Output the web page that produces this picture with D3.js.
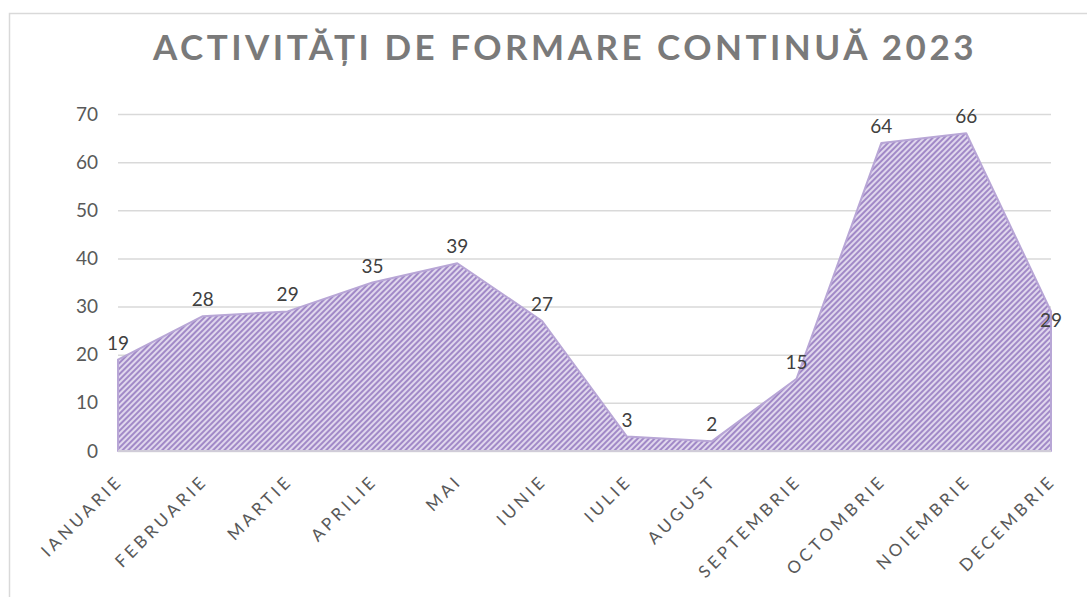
<!DOCTYPE html>
<html>
<head>
<meta charset="utf-8">
<script src="https://cdn.jsdelivr.net/npm/d3@7"></script>
<style>
    body { margin: 0; background: #fff; }
    svg { display: block; }
</style>
</head>
<body>
<div id="chart"></div>
<script>
"use strict";

var title = "ACTIVITĂȚI DE FORMARE CONTINUĂ 2023";
var months = ["IANUARIE", "FEBRUARIE", "MARTIE", "APRILIE", "MAI", "IUNIE",
    "IULIE", "AUGUST", "SEPTEMBRIE", "OCTOMBRIE", "NOIEMBRIE", "DECEMBRIE"];
var values = [19, 28, 29, 35, 39, 27, 3, 2, 15, 64, 66, 29];
var yTicks = [0, 10, 20, 30, 40, 50, 60, 70];

var width = 1087;
var height = 597;
var margin = { top: 114, right: 36, bottom: 146, left: 118 };

var svg = d3.select("#chart")
    .append("svg")
    .attr("width", width)
    .attr("height", height);

// hatch pattern for the area
var pattern = svg.append("defs")
    .append("pattern")
    .attr("id", "hatch")
    .attr("patternUnits", "userSpaceOnUse")
    .attr("width", 4)
    .attr("height", 4)
    .attr("patternTransform", "rotate(45)");

pattern.append("rect")
    .attr("width", 4)
    .attr("height", 4)
    .attr("fill", "#e0d7ed");

pattern.append("line")
    .attr("x1", 1).attr("y1", 0)
    .attr("x2", 1).attr("y2", 4)
    .attr("stroke", "#8c6fbb")
    .attr("stroke-width", 1.5);

// chart frame
svg.append("rect")
    .attr("x", 9.5)
    .attr("y", 13.5)
    .attr("width", 1200)
    .attr("height", 700)
    .attr("fill", "none")
    .attr("stroke", "#d9d9d9")
    .attr("stroke-width", 1.5);

var x = d3.scalePoint()
    .domain(months)
    .range([margin.left, width - margin.right]);

var y = d3.scaleLinear()
    .domain([0, 70])
    .range([height - margin.bottom, margin.top]);

svg.append("text")
    .attr("x", 565)
    .attr("y", 60)
    .attr("text-anchor", "middle")
    .attr("font-family", "Lato, 'Open Sans', sans-serif")
    .attr("font-size", "35px")
    .attr("font-weight", "bold")
    .attr("letter-spacing", "3.5px")
    .attr("fill", "#7a7a7a")
    .text(title);

// gridlines + y labels
var yAxis = svg.append("g")
    .attr("transform", "translate(" + margin.left + ",0)")
    .call(d3.axisLeft(y)
        .tickValues(yTicks)
        .tickSize(-(width - margin.left - margin.right))
        .tickPadding(20));

yAxis.select(".domain").remove();
yAxis.selectAll(".tick line")
    .attr("stroke", "#d9d9d9")
    .attr("stroke-width", 1.5);
yAxis.selectAll(".tick text")
    .attr("font-family", "Lato, 'Open Sans', sans-serif")
    .attr("font-size", "19px")
    .attr("fill", "#595959");

var area = d3.area()
    .x(function (d, i) { return x(months[i]); })
    .y0(y(0))
    .y1(function (d) { return y(d); });

svg.append("path")
    .datum(values)
    .attr("d", area)
    .attr("fill", "url(#hatch)")
    .attr("stroke", "#b8a6d6")
    .attr("stroke-width", 2)
    .attr("stroke-linejoin", "round");

// baseline
svg.append("line")
    .attr("x1", margin.left)
    .attr("x2", width - margin.right)
    .attr("y1", y(0))
    .attr("y2", y(0))
    .attr("stroke", "#d9d9d9")
    .attr("stroke-width", 1.5);

// data labels
svg.selectAll("text.value")
    .data(values)
    .enter()
    .append("text")
    .attr("class", "value")
    .attr("x", function (d, i) {
        return x(months[i]);
    })
    .attr("y", function (d, i) {
        return i === values.length - 1 ? y(d) + 16 : y(d) - 10;
    })
    .attr("text-anchor", "middle")
    .attr("font-family", "Lato, 'Open Sans', sans-serif")
    .attr("font-size", "19px")
    .attr("fill", "#404040")
    .text(function (d) { return d; });

// x labels, rotated
svg.selectAll("text.month")
    .data(months)
    .enter()
    .append("text")
    .attr("class", "month")
    .attr("transform", function (d) {
        return "translate(" + (x(d) + 6) + "," + (y(0) + 31) + ") rotate(-45)";
    })
    .attr("text-anchor", "end")
    .attr("font-family", "Lato, 'Open Sans', sans-serif")
    .attr("font-size", "17px")
    .attr("letter-spacing", "3.6px")
    .attr("fill", "#595959")
    .text(function (d) { return d; });
</script>
</body>
</html>
